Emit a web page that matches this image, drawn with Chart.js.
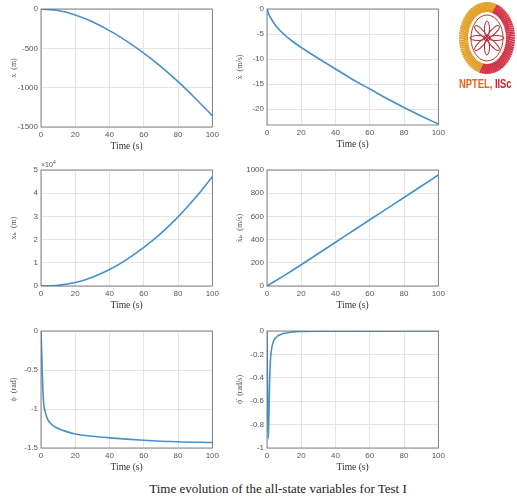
<!DOCTYPE html>
<html>
<head>
<meta charset="utf-8">
<script src="https://cdn.jsdelivr.net/npm/chart.js@4"></script>
<style>
  body { margin: 0; background: #fff; }
  #page { position: relative; width: 517px; height: 498px; overflow: hidden; background: #fff; }
  .plot { position: absolute; }
  #caption { position: absolute; left: 0; width: 556px; top: 481px; text-align: center;
    font-family: "Liberation Serif", serif; font-size: 13px; color: #222; }
  #expo { position: absolute; left: 41px; top: 159px; font-family: "Liberation Sans", sans-serif;
    font-size: 7px; color: #555; }
  #logo { position: absolute; left: 445px; top: 0; }
</style>
</head>
<body>
<div id="page">
  <canvas class="plot" id="c1" width="222" height="155" style="left:0;top:0"></canvas>
  <canvas class="plot" id="c2" width="222" height="153" style="left:226px;top:0"></canvas>
  <canvas class="plot" id="c3" width="222" height="153" style="left:0;top:161px"></canvas>
  <canvas class="plot" id="c4" width="222" height="153" style="left:226px;top:161px"></canvas>
  <canvas class="plot" id="c5" width="222" height="154" style="left:0;top:322px"></canvas>
  <canvas class="plot" id="c6" width="222" height="154" style="left:226px;top:322px"></canvas>
  <div id="expo">&times;10<sup style="font-size:5px">4</sup></div>
  <canvas id="logo" width="72" height="100"></canvas>
  <div id="caption">Time evolution of the all-state variables for Test I</div>
</div>
<script>
// values
const tCoarse = [0, 10, 20, 30, 40, 50, 60, 70, 80, 90, 100];
const xPos = [0, -20, -75, -162, -275, -408, -560, -732, -924, -1134, -1356];

const tVel = [0, 1, 2, 5, 10, 15, 20, 30, 40, 50, 60, 70, 80, 90, 100];
const xVel = [0, -1.0, -1.7, -3.3, -5.1, -6.5, -7.7, -9.9, -12, -14.1, -16, -17.9, -19.7, -21.4, -23];

const xhPos = [0, 300, 1500, 3800, 7100, 11400, 16600, 22700, 29800, 37900, 47100];
const xhVel = [0, 90, 183, 280, 377, 474, 571, 667, 763, 860, 957];

const tPhi = [0, 0.3, 0.6, 1, 1.5, 2, 2.5, 3.5, 5, 7.5, 10, 15, 20, 30, 40, 60, 80, 100];
const phi = [0, -0.2, -0.44, -0.7, -0.91, -1.0, -1.04, -1.11, -1.17, -1.22, -1.25, -1.29, -1.32, -1.35, -1.37, -1.40, -1.42, -1.43];

const tRate = [0, 0.3, 0.7, 1.0, 1.5, 2, 3, 4, 6, 8, 10, 15, 20, 30, 50, 100];
const phiRate = [0, -0.5, -0.92, -0.8, -0.45, -0.25, -0.13, -0.08, -0.045, -0.03, -0.02, -0.008, -0.004, -0.002, -0.001, 0];

const timeTicks = [0, 20, 40, 60, 80, 100];

const lineColor = 'rgb(70,145,205)';
const serif = '"Liberation Serif", "DejaVu Serif", serif';
const sans = '"Liberation Sans", Arial, sans-serif';

function pts (ts, ys) {
    return ts.map((t, i) => ({x: t, y: ys[i]}));
}

// box around the plot area, like matlab's "box on"
const boxPlugin = {
    id: 'box',
    afterDraw (chart) {
        const a = chart.chartArea;
        const ctx = chart.ctx;
        ctx.save();
        ctx.strokeStyle = '#666';
        ctx.lineWidth = 0.8;
        ctx.strokeRect(a.left, a.top, a.right - a.left, a.bottom - a.top);
        ctx.restore();
    }
};

function plot (id, data, yLabel, yMin, yMax, yStep, yFmt) {
    const ctx = document.getElementById(id).getContext('2d');
    return new Chart(ctx, {
        type: 'line',
        data: {
            datasets: [{
                data: data,
                borderColor: lineColor,
                borderWidth: 1.6,
                pointRadius: 0,
                cubicInterpolationMode: 'monotone',
                fill: false
            }]
        },
        options: {
            responsive: false,
            animation: false,
            layout: { padding: { top: 9, right: 9, left: 0, bottom: 3 } },
            plugins: { legend: { display: false }, tooltip: { enabled: false } },
            scales: {
                x: {
                    type: 'linear',
                    min: 0,
                    max: 100,
                    afterBuildTicks: s => { s.ticks = timeTicks.map(v => ({value: v})); },
                    afterFit: s => { s.height = 25; },
                    grid: { color: '#e4e4e4', drawTicks: false },
                    border: { display: false },
                    ticks: { color: '#555', padding: 3, font: { family: sans, size: 8 }, maxRotation: 0 },
                    title: { display: true, text: 'Time (s)', color: '#333', padding: { top: 0, bottom: 0 },
                        font: { family: serif, size: 9.5 } }
                },
                y: {
                    min: yMin,
                    max: yMax,
                    afterFit: s => { s.width = 41; },
                    grid: { color: '#e4e4e4', drawTicks: false },
                    border: { display: false },
                    ticks: { stepSize: yStep, includeBounds: false, color: '#555', padding: 3,
                        font: { family: sans, size: 8 }, callback: yFmt },
                    title: { display: true, text: yLabel, color: '#555', padding: { top: 9, bottom: 0 },
                        font: { family: serif, size: 8 } }
                }
            }
        },
        plugins: [boxPlugin]
    });
}

const plain = v => String(Number(v.toFixed(2)));

function logo () {
    const ctx = document.getElementById('logo').getContext('2d');
    const cx = 42, cy = 38;
    // outer ring made of short slanted strokes
    for (let i = 0; i < 90; i++) {
        const a = i / 90 * Math.PI * 2;
        const deg = (a * 180 / Math.PI + 360) % 360;
        ctx.strokeStyle = (deg > 100 && deg < 285) ? '#e3a02a' : '#d23448';
        ctx.lineWidth = 2;
        ctx.beginPath();
        ctx.moveTo(cx + Math.cos(a) * 19, cy + Math.sin(a) * 26);
        ctx.lineTo(cx + Math.cos(a + 0.08) * 28, cy + Math.sin(a + 0.08) * 36);
        ctx.stroke();
    }
    ctx.fillStyle = '#fff';
    ctx.beginPath();
    ctx.ellipse(cx, cy, 17, 24, 0, 0, Math.PI * 2);
    ctx.fill();
    ctx.strokeStyle = '#c0392b';
    ctx.lineWidth = 1;
    ctx.beginPath();
    ctx.ellipse(cx, cy, 16, 23, 0, 0, Math.PI * 2);
    ctx.stroke();
    // petals
    ctx.strokeStyle = '#b02a37';
    for (let i = 0; i < 8; i++) {
        const a = i / 8 * Math.PI * 2;
        ctx.save();
        ctx.translate(cx, cy);
        ctx.rotate(a);
        ctx.beginPath();
        ctx.ellipse(0, -9, 2.5, 8, 0, 0, Math.PI * 2);
        ctx.stroke();
        ctx.restore();
    }
    ctx.beginPath();
    ctx.arc(cx, cy, 3, 0, Math.PI * 2);
    ctx.stroke();
    // squeezed bold text, the logo font is condensed
    ctx.save();
    ctx.translate(14, 84);
    ctx.scale(0.72, 1);
    ctx.font = 'bold 13px "Liberation Sans", sans-serif';
    ctx.textBaseline = 'middle';
    ctx.fillStyle = '#e8641a';
    ctx.fillText('NPTEL,', 0, 0);
    const w = ctx.measureText('NPTEL, ').width;
    ctx.fillStyle = '#c8202e';
    ctx.fillText('IISc', w, 0);
    ctx.restore();
}

function main () {
    plot('c1', pts(tCoarse, xPos), 'x  (m)', -1500, 0, 500, plain);
    plot('c2', pts(tVel, xVel), 'ẋ  (m/s)', -23.2, 0, 5, plain);
    plot('c3', pts(tCoarse, xhPos), 'xₕ  (m)', 0, 50000, 10000, v => String(v / 10000));
    plot('c4', pts(tCoarse, xhVel), 'ẋₕ  (m/s)', 0, 1000, 200, plain);
    plot('c5', pts(tPhi, phi), 'ϕ  (rad)', -1.5, 0, 0.5, plain);
    plot('c6', pts(tRate, phiRate), 'ϕ̇  (rad/s)', -1, 0, 0.2, plain);
    logo();
}

window.onload = main;
</script>
</body>
</html>
